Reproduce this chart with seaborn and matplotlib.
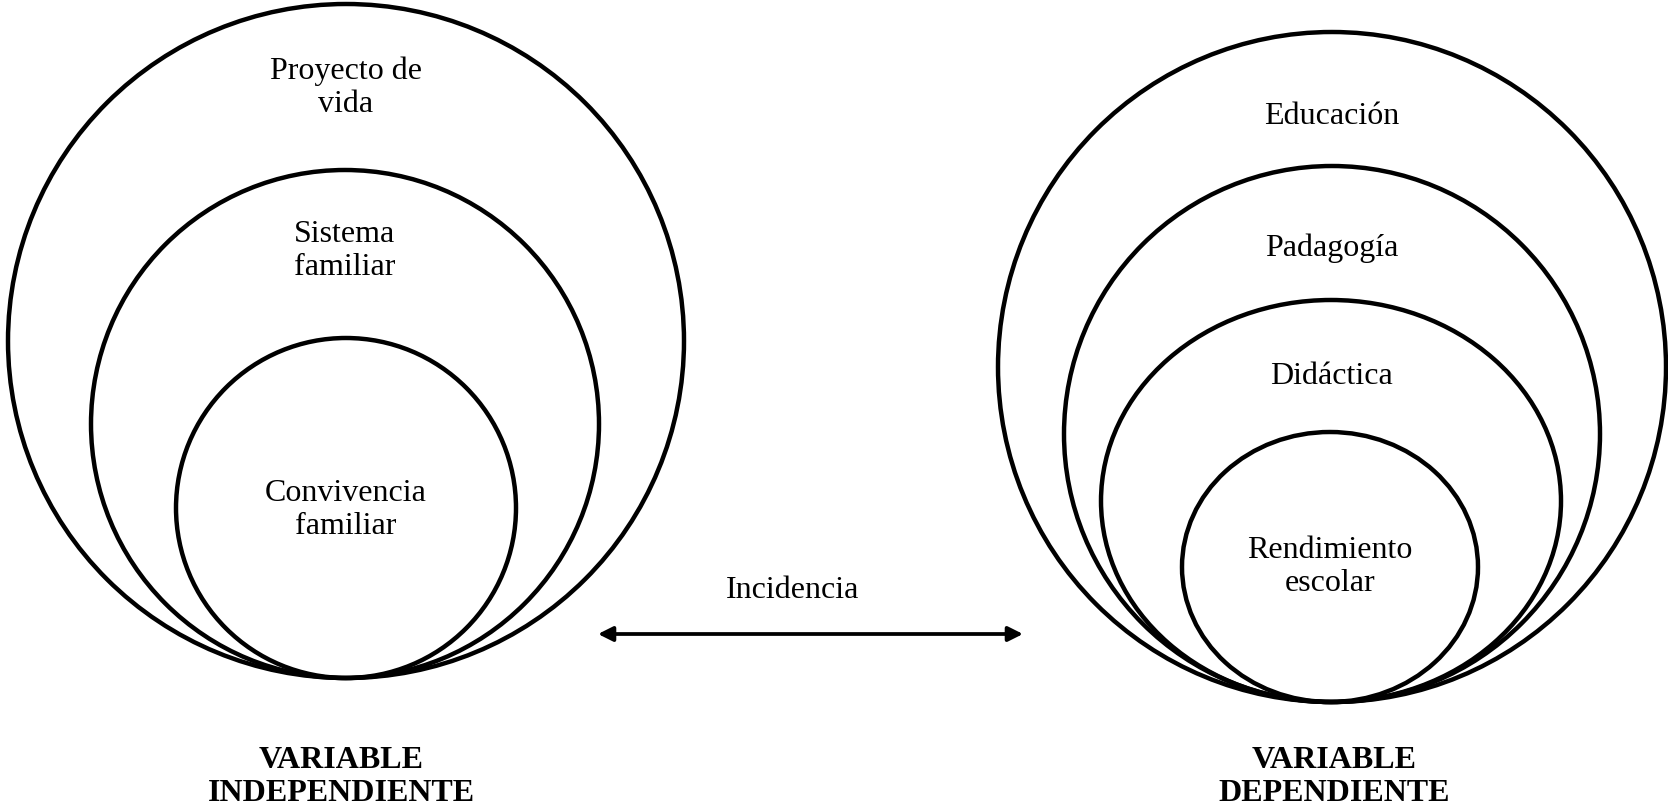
import matplotlib
matplotlib.use("Agg")
import matplotlib.pyplot as plt
from matplotlib.patches import Ellipse
import seaborn as sns

# ---- data (pixel units of the 1668x808 canvas) ----
left_labels = ["Proyecto de\nvida", "Sistema\nfamiliar", "Convivencia\nfamiliar"]
left_cx = [346, 345, 346]
left_cy = [341, 424, 508]
left_rx = [338, 254, 170]
left_ry = [337, 254, 170]
left_label_y = [88, 251, 510]

right_labels = ["Educación", "Padagogía", "Didáctica", "Rendimiento\nescolar"]
right_cx = [1332, 1332, 1331, 1330]
right_cy = [367, 434, 501, 567]
right_rx = [334, 268, 230, 148]
right_ry = [335, 268, 201, 135]
right_label_y = [117, 248, 376, 567]

arrow_label = "Incidencia"
arrow_x = [598, 1023]
arrow_y = 634
arrow_label_pos = (793, 591)

var_labels = ["VARIABLE\nINDEPENDIENTE", "VARIABLE\nDEPENDIENTE"]
var_x = [341, 1334]
var_y = 777

sns.set_theme(style="white")
plt.rcParams["font.family"] = ["Liberation Serif", "DejaVu Serif"]

fig = plt.figure(figsize=(16.68, 8.08), dpi=100)
ax = fig.add_axes([0, 0, 1, 1])
ax.set_xlim(0, 1668)
ax.set_ylim(808, 0)
ax.set_aspect("equal")
ax.axis("off")

lw = 3.2
for cx, cy, rx, ry in zip(left_cx, left_cy, left_rx, left_ry):
    ax.add_patch(Ellipse((cx, cy), 2 * rx, 2 * ry, fill=False, ec="black", lw=lw))
for cx, cy, rx, ry in zip(right_cx, right_cy, right_rx, right_ry):
    ax.add_patch(Ellipse((cx, cy), 2 * rx, 2 * ry, fill=False, ec="black", lw=lw))

fs = 23
ls = 1.18
for lab, y, cx in zip(left_labels, left_label_y, left_cx):
    ax.text(cx, y, lab, ha="center", va="center", fontsize=fs, linespacing=ls, color="black")
for lab, y, cx in zip(right_labels, right_label_y, right_cx):
    ax.text(cx, y, lab, ha="center", va="center", fontsize=fs, linespacing=ls, color="black")

ax.annotate("", xy=(arrow_x[1], arrow_y), xytext=(arrow_x[0], arrow_y),
            arrowprops=dict(arrowstyle="<|-|>", color="black", lw=2.7,
                            mutation_scale=22, shrinkA=0, shrinkB=0))
ax.text(arrow_label_pos[0], arrow_label_pos[1], arrow_label, ha="center", va="center",
        fontsize=fs, color="black")

for lab, x in zip(var_labels, var_x):
    ax.text(x, var_y, lab, ha="center", va="center", fontsize=fs, fontweight="bold",
            linespacing=1.2, color="black")

fig.savefig("out.png", dpi=100)
